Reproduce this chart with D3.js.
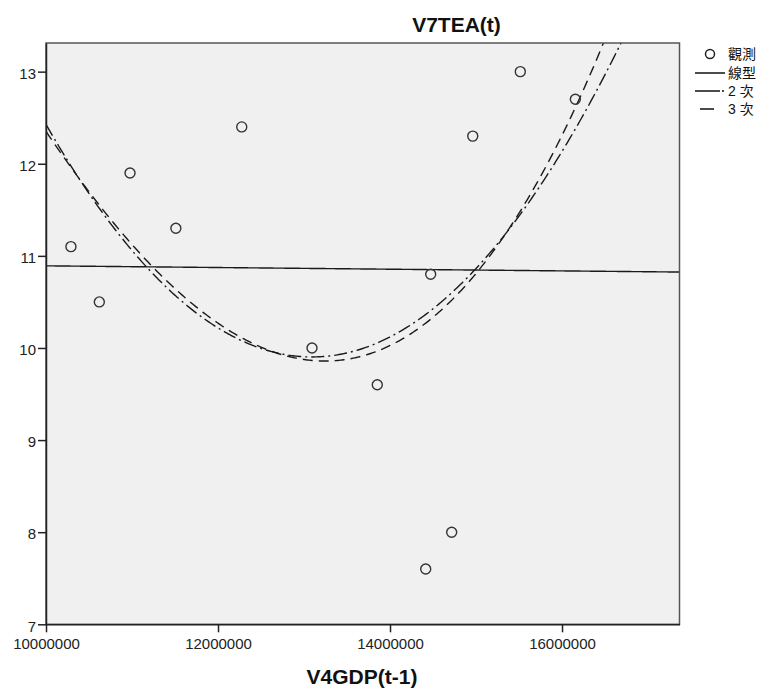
<!DOCTYPE html>
<html><head><meta charset="utf-8">
<script src="https://cdn.jsdelivr.net/npm/d3@7"></script>
<style>
body{margin:0;background:#fff;}
svg{display:block;font-family:"Liberation Sans","Noto Sans CJK TC",sans-serif;}
</style></head><body>
<svg id="c" width="760" height="688"></svg>
<script>
// observed data (x = V4GDP(t-1), y = V7TEA(t))
const gdp = [10290000,10620000,10977000,11510000,12276000,13093000,13852000,14473000,14415000,14717000,14962000,15515000,16155000];
const tea = [11.1,10.5,11.9,11.3,12.4,10.0,9.6,10.8,7.6,8.0,12.3,13.0,12.7];
const xTicks = [10000000,12000000,14000000,16000000];
const yTicks = [7,8,9,10,11,12,13];
const legendLabels = ["觀測","線型","2 次","3 次"];
const titleText = "V7TEA(t)";
const xLabel = "V4GDP(t-1)";
// model terms (powers of x) used by each fitted curve: linear, quadratic, cubic
// (the cubic's linear term is dropped by tolerance, as in the source output)
const modelPowers = [[0,1],[0,1,2],[0,2,3]];

const svg = d3.select("#c");
const L=46, R=679.5, T=43, B=624.3;
const x = d3.scaleLinear().domain([10000000,17366000]).range([L,R]);
const y = d3.scaleLinear().domain([7,13.311]).range([B,T]);

// least squares on given power basis (x in millions)
function lsfit(xs, ys, powers){
  const n=powers.length, A=[], b=[];
  for(let i=0;i<n;i++){A.push(new Array(n).fill(0)); b.push(0);}
  xs.forEach((xr,k)=>{
    const xv=xr/1e6;
    for(let i=0;i<n;i++){ b[i]+=ys[k]*Math.pow(xv,powers[i]);
      for(let j=0;j<n;j++) A[i][j]+=Math.pow(xv,powers[i]+powers[j]);}
  });
  for(let i=0;i<n;i++){
    let p=i; for(let r=i+1;r<n;r++) if(Math.abs(A[r][i])>Math.abs(A[p][i])) p=r;
    [A[i],A[p]]=[A[p],A[i]]; [b[i],b[p]]=[b[p],b[i]];
    for(let r=i+1;r<n;r++){const f=A[r][i]/A[i][i]; for(let c=i;c<n;c++) A[r][c]-=f*A[i][c]; b[r]-=f*b[i];}
  }
  const c=new Array(n).fill(0);
  for(let i=n-1;i>=0;i--){let s=b[i]; for(let j=i+1;j<n;j++) s-=A[i][j]*c[j]; c[i]=s/A[i][i];}
  return v=>{const t=v/1e6; return c.reduce((s,ci,i)=>s+ci*Math.pow(t,powers[i]),0);};
}
const fits=modelPowers.map(p=>lsfit(gdp,tea,p));
const dashes=[null,"13,4,2,4","10,6"];

// plot background
svg.append("rect").attr("x",L).attr("y",T).attr("width",R-L).attr("height",B-T)
  .attr("fill","#f0f0f0");
svg.append("clipPath").attr("id","clip").append("rect")
  .attr("x",L).attr("y",T).attr("width",R-L).attr("height",B-T);

const xs = d3.range(0,401).map(i=>x.invert(L+(R-L)*i/400));
const g=svg.append("g").attr("clip-path","url(#clip)");
fits.forEach((f,i)=>{
  g.append("path").datum(xs)
   .attr("d",d3.line().x(d=>x(d)).y(d=>y(f(d))))
   .attr("fill","none").attr("stroke","#1a1a1a").attr("stroke-width",1.4)
   .attr("stroke-dasharray",dashes[i]);
});
svg.selectAll("circle.pt").data(gdp).enter().append("circle").attr("class","pt")
  .attr("cx",d=>x(d)).attr("cy",(d,i)=>y(tea[i])).attr("r",5)
  .attr("fill","none").attr("stroke","#333").attr("stroke-width",1.4);

// border
svg.append("rect").attr("x",L).attr("y",T).attr("width",R-L).attr("height",B-T)
  .attr("fill","none").attr("stroke","#555").attr("stroke-width",1.5);

// axes
const xa=svg.append("g").attr("transform",`translate(0,${B})`)
  .call(d3.axisBottom(x).tickValues(xTicks).tickFormat(d3.format("d")).tickSize(8).tickSizeOuter(0));
const ya=svg.append("g").attr("transform",`translate(${L},0)`)
  .call(d3.axisLeft(y).tickValues(yTicks).tickFormat(d3.format("d")).tickSize(8).tickSizeOuter(0));
[xa,ya].forEach(a=>{
  a.select(".domain").attr("stroke","#222").attr("stroke-width",1.5);
  a.selectAll(".tick line").attr("stroke","#222").attr("stroke-width",1.5);
  a.selectAll("text").attr("font-family","Liberation Sans").attr("font-size",15).attr("fill","#222");
});
xa.selectAll("text").attr("dy","0.71em").attr("y",14);
ya.selectAll("text").attr("x",-10).attr("dy","0.45em");

// title and axis label
svg.append("text").attr("x",456.5).attr("y",32).attr("text-anchor","middle")
  .attr("font-size",21).attr("font-weight","bold").attr("fill","#111").text(titleText);
svg.append("text").attr("x",362).attr("y",684).attr("text-anchor","middle")
  .attr("font-size",21).attr("font-weight","bold").attr("fill","#111").text(xLabel);

// legend
const lg=svg.append("g");
const ly=[54,73,91,109];
lg.append("circle").attr("cx",710).attr("cy",ly[0]).attr("r",4.5)
  .attr("fill","none").attr("stroke","#222").attr("stroke-width",1.5);
[1,2,3].forEach(i=>{
  lg.append("line").attr("x1",695).attr("x2",725).attr("y1",ly[i]).attr("y2",ly[i])
    .attr("stroke","#111").attr("stroke-width",1.5)
    .attr("stroke-dasharray",i===1?null:(i===2?"25,2,2,4":"0,5,14,20"));
});
legendLabels.forEach((t,i)=>{
  lg.append("text").attr("x",728).attr("y",ly[i]+5).attr("font-size",14)
    .attr("fill","#111").text(t);
});
</script></body></html>
